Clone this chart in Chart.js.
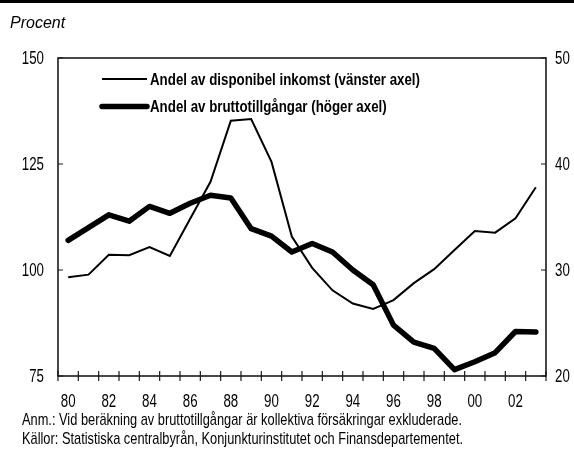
<!DOCTYPE html>
<html>
<head>
<meta charset="utf-8">
<script src="https://cdn.jsdelivr.net/npm/chart.js@4"></script>
<style>
  html, body { margin: 0; padding: 0; background: #fff; }
  #wrap { position: relative; width: 574px; height: 450px; }
</style>
</head>
<body>
<div id="wrap"><canvas id="c" width="574" height="450"></canvas></div>
<script>
// ---- data ----
const years = ['80','81','82','83','84','85','86','87','88','89','90','91','92','93','94','95','96','97','98','99','00','01','02','03'];
const incomeShare = [98.3, 98.9, 103.6, 103.5, 105.4, 103.3, 112.1, 120.8, 135.2, 135.6, 125.5, 107.9, 100.5, 95.2, 92.1, 90.8, 92.9, 96.9, 100.2, 104.7, 109.2, 108.8, 112.2, 119.5];
const assetShare = [32.8, 34.0, 35.2, 34.6, 36.0, 35.35, 36.3, 37.05, 36.8, 33.9, 33.2, 31.7, 32.5, 31.7, 30.0, 28.6, 24.8, 23.2, 22.6, 20.6, 21.35, 22.2, 24.2, 24.15];
const leftTicks = [75, 100, 125, 150];
const rightTicks = [20, 30, 40, 50];
const seriesLabels = ['Andel av disponibel inkomst (vänster axel)', 'Andel av bruttotillgångar (höger axel)'];
const unitLabel = 'Procent';
const notes = [
  'Anm.: Vid beräkning av bruttotillgångar är kollektiva försäkringar exkluderade.',
  'Källor: Statistiska centralbyrån, Konjunkturinstitutet och Finansdepartementet.'
];

const SANS = '"Liberation Sans", Arial, sans-serif';
const TICK_FONT = '17.5px ' + SANS;
const TICK_SX = 0.76;

function drawScaled(ctx, text, x, y, font, sx, align) {
  ctx.save();
  ctx.font = font;
  const w = ctx.measureText(text).width * sx;
  let x0 = x;
  if (align === 'right') x0 = x - w;
  else if (align === 'center') x0 = x - w / 2;
  ctx.translate(x0, y);
  ctx.scale(sx, 1);
  ctx.textAlign = 'left';
  ctx.fillText(text, 0, 0);
  ctx.restore();
}
function fitText(ctx, text, x, y, font, targetW) {
  ctx.save();
  ctx.font = font;
  const w = ctx.measureText(text).width;
  ctx.restore();
  drawScaled(ctx, text, x, y, font, targetW / w, 'left');
}

const decor = {
  id: 'decor',
  beforeDraw(chart) {
    const ctx = chart.ctx;
    ctx.save();
    ctx.fillStyle = '#fff';
    ctx.fillRect(0, 0, chart.width, chart.height);
    ctx.restore();
  },
  afterDraw(chart) {
    const ctx = chart.ctx;
    const a = chart.chartArea;
    const xs = chart.scales.x;
    const yl = chart.scales.y;
    const yr = chart.scales.y1;
    ctx.save();
    // top bar
    ctx.fillStyle = '#000';
    ctx.fillRect(0, 0, chart.width, 3);
    // frame
    ctx.strokeStyle = '#1a1a1a';
    ctx.lineWidth = 1.6;
    ctx.strokeRect(a.left, a.top, a.right - a.left, a.bottom - a.top);
    // x tick marks at category boundaries
    ctx.lineWidth = 1.2;
    ctx.beginPath();
    const n = years.length;
    for (let i = 0; i <= n; i++) {
      let px;
      if (i === 0) px = a.left;
      else if (i === n) px = a.right;
      else px = (xs.getPixelForValue(i - 1) + xs.getPixelForValue(i)) / 2;
      ctx.moveTo(px, a.bottom - 5);
      ctx.lineTo(px, a.bottom + 5);
    }
    leftTicks.forEach(v => {
      const py = yl.getPixelForValue(v);
      ctx.moveTo(a.left, py); ctx.lineTo(a.left + 5, py);
    });
    rightTicks.forEach(v => {
      const py = yr.getPixelForValue(v);
      ctx.moveTo(a.right - 5, py); ctx.lineTo(a.right, py);
    });
    ctx.stroke();

    // tick labels (condensed)
    ctx.fillStyle = '#000';
    ctx.textBaseline = 'middle';
    leftTicks.forEach(v => drawScaled(ctx, String(v), a.left - 14, yl.getPixelForValue(v) + 1, TICK_FONT, TICK_SX, 'right'));
    rightTicks.forEach(v => drawScaled(ctx, String(v), a.right + 9, yr.getPixelForValue(v) + 1, TICK_FONT, TICK_SX, 'left'));
    years.forEach((lab, i) => {
      if (i % 2 === 0) drawScaled(ctx, lab, xs.getPixelForValue(i), a.bottom + 26, TICK_FONT, TICK_SX, 'center');
    });

    // legend
    const ds = chart.data.datasets;
    const legY = [a.top + 21, a.top + 48.5];
    ds.forEach((d, i) => {
      ctx.beginPath();
      ctx.strokeStyle = '#000';
      ctx.lineWidth = d.borderWidth;
      ctx.lineCap = i === 1 ? 'round' : 'butt';
      ctx.moveTo(a.left + 44, legY[i]);
      ctx.lineTo(a.left + 89, legY[i]);
      ctx.stroke();
    });
    const legFont = 'bold 17px ' + SANS;
    ctx.font = legFont;
    const s = 270 / ctx.measureText(ds[0].label).width;
    ds.forEach((d, i) => drawScaled(ctx, d.label, a.left + 92, legY[i] + 1, legFont, s, 'left'));

    // unit label
    ctx.textBaseline = 'alphabetic';
    ctx.font = 'italic 16px ' + SANS;
    ctx.fillText(unitLabel, 10, 28);

    // notes
    fitText(ctx, notes[0], 22, 425, '17px ' + SANS, 440);
    fitText(ctx, notes[1], 22, 444, '17px ' + SANS, 441);
    ctx.restore();
  }
};

new Chart(document.getElementById('c'), {
  type: 'line',
  data: {
    labels: years,
    datasets: [
      { label: seriesLabels[0], data: incomeShare, yAxisID: 'y', borderColor: '#000', borderWidth: 2, pointRadius: 0, tension: 0, borderJoinStyle: 'miter', fill: false },
      { label: seriesLabels[1], data: assetShare, yAxisID: 'y1', borderColor: '#000', borderWidth: 5.5, pointRadius: 0, tension: 0, borderJoinStyle: 'round', borderCapStyle: 'round', fill: false }
    ]
  },
  options: {
    responsive: false,
    animation: false,
    devicePixelRatio: 1,
    layout: { padding: { top: 58, left: 0, right: 0, bottom: 0 } },
    plugins: { legend: { display: false }, tooltip: { enabled: false } },
    scales: {
      x: {
        type: 'category',
        offset: true,
        grid: { display: false, drawTicks: false },
        border: { display: false },
        ticks: { display: false, autoSkip: false },
        afterFit(scale) { scale.height = 74; }
      },
      y: {
        position: 'left', min: 75, max: 150,
        grid: { display: false, drawTicks: false },
        border: { display: false },
        ticks: { display: false, stepSize: 25 },
        afterBuildTicks(scale) { scale.ticks = leftTicks.map(v => ({ value: v })); },
        afterFit(scale) { scale.width = 58; }
      },
      y1: {
        position: 'right', min: 20, max: 50,
        grid: { display: false, drawTicks: false },
        border: { display: false },
        ticks: { display: false, stepSize: 10 },
        afterBuildTicks(scale) { scale.ticks = rightTicks.map(v => ({ value: v })); },
        afterFit(scale) { scale.width = 28; }
      }
    }
  },
  plugins: [decor]
});
</script>
</body>
</html>
